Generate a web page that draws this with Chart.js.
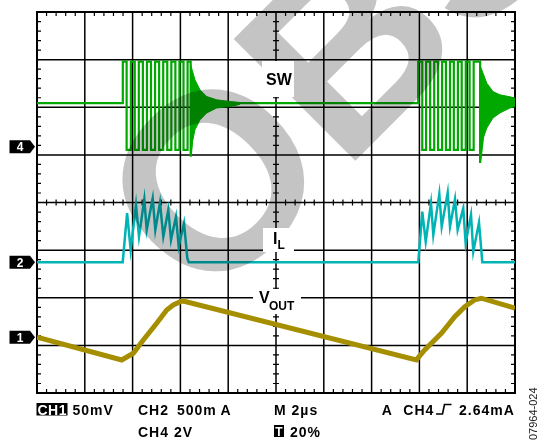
<!DOCTYPE html>
<html>
<head>
<meta charset="utf-8">
<script src="https://cdn.jsdelivr.net/npm/chart.js@4.4.1/dist/chart.umd.min.js"></script>
<style>
  html, body { margin: 0; padding: 0; background: #fff; }
  #wrap { width: 538px; height: 440px; }
</style>
</head>
<body>
<div id="wrap"><canvas id="scope" width="538" height="440"></canvas></div>
<script>
// time axis: 10 div x 2us
var timeSpanUs = 20;

// CH4 - SW node, volts
var swBase = 1.83, swHigh = 3.58, swLow = -0.13;
var burst1Rise = [3.59, 3.93, 4.26, 4.60, 4.94, 5.28, 5.62, 5.96, 6.30];
var burst1Fall = [3.75, 4.09, 4.43, 4.77, 5.11, 5.45, 5.79, 6.13, 6.43];
var burst1Spike = -0.41;
var burst2Rise = [15.95, 16.28, 16.62, 16.95, 17.28, 17.61, 17.94, 18.27];
var burst2Fall = [16.12, 16.45, 16.78, 17.11, 17.44, 17.77, 18.10, 18.54];
var burst2Spike = -0.68;

// ringing envelope after each burst (volts)
var ring1Time   = [6.43, 6.50, 6.61, 6.82, 7.10, 7.52, 8.08, 8.49];
var ring1Top    = [3.44, 3.20, 2.81, 2.39, 2.11, 1.97, 1.90, 1.86];
var ring1Bottom = [-0.41, 0.20, 0.71, 1.13, 1.42, 1.63, 1.69, 1.78];
var ring2Time   = [18.54, 18.61, 18.82, 19.08, 19.37, 19.79, 20.0];
var ring2Top    = [3.40, 3.23, 2.67, 2.32, 2.18, 2.10, 2.04];
var ring2Bottom = [-0.68, 0.20, 0.79, 1.21, 1.42, 1.63, 1.69];

// CH2 - inductor current, mA
var ilTime = [0, 3.586, 3.770, 3.92, 4.142, 4.268, 4.49, 4.59, 4.841, 4.95, 5.146, 5.285, 5.494, 5.607, 5.816, 5.929, 6.151, 6.289, 6.35,
              15.954, 16.121, 16.264, 16.485, 16.582, 16.833, 16.933, 17.184, 17.280, 17.49, 17.6, 17.835, 17.935, 18.159, 18.255, 18.494, 18.632, 20];
var ilMa   = [0, 0, 515, 129, 602, 269, 662, 339, 672, 339, 626, 269, 549, 234, 479, 164, 410, 42, 0,
              0, 531, 216, 620, 287, 717, 374, 731, 374, 662, 339, 567, 200, 497, 111, 416, 0, 0];

// CH1 - output ripple, mV (AC)
var voTime = [0, 3.544, 4.03, 4.448, 5.008, 5.427, 5.703, 6.054, 6.2, 15.87, 16.22, 16.92, 17.48, 17.9, 18.31, 18.59, 20];
var voMv   = [0, -23.8, -16.8, -2.8, 14.7, 28.7, 33.9, 38.1, 37.6, -23.8, -13.3, 4.2, 21.6, 32.1, 39.2, 41, 30.5];

// channel settings (ground marker in divisions from bottom, units per div)
var ch4 = { zero: 5.17, perDiv: 2 };
var ch2 = { zero: 2.746, perDiv: 500 };
var ch1 = { zero: 1.17, perDiv: 50 };

var swColor = '#00a800';
var ilColor = '#00b3b5';
var voColor = '#a58f00';

function toDiv(ch, v) { return ch.zero + v / ch.perDiv; }

// square wave of one burst, then back to the idle level inside the ringing envelope
function burstPoints(rise, fall, spike, ringTime) {
    var p = [];
    rise.forEach(function(t, k) {
        p.push({ x: t, y: k === 0 ? swBase : swLow });
        p.push({ x: t, y: swHigh });
        p.push({ x: fall[k], y: swHigh });
        p.push({ x: fall[k], y: k === rise.length - 1 ? spike : swLow });
    });
    p.push({ x: ringTime[2], y: swBase });
    p.push({ x: ringTime[ringTime.length - 1], y: swBase });
    return p;
}

var swPts = [{ x: 0, y: swBase }]
    .concat(burstPoints(burst1Rise, burst1Fall, burst1Spike, ring1Time))
    .concat(burstPoints(burst2Rise, burst2Fall, burst2Spike, ring2Time))
    .map(function(p) { return { x: p.x, y: toDiv(ch4, p.y) }; });

function series(times, vals, ch) {
    return times.map(function(t, i) { return { x: t, y: toDiv(ch, vals[i]) }; });
}

function traceSet(data, color, width) {
    return { data: data, borderColor: color, borderWidth: width, pointRadius: 0, tension: 0, fill: false };
}
function envSet(data, color, fillPrev) {
    return { data: data, borderColor: color, backgroundColor: color, borderWidth: 1, pointRadius: 0, tension: 0, fill: fillPrev ? '-1' : false };
}

var scopePlugin = {
    id: 'scope',
    beforeDraw: function(chart) {
        var ctx = chart.ctx;
        ctx.save();
        ctx.fillStyle = '#fff';
        ctx.fillRect(0, 0, chart.width, chart.height);
        ctx.restore();
    },
    beforeDatasetsDraw: function(chart) {
        var ctx = chart.ctx, a = chart.chartArea;
        var xs = chart.scales.x, ys = chart.scales.y;
        var xc = xs.getPixelForValue(timeSpanUs / 2), yc = ys.getPixelForValue(4);
        ctx.save();
        ctx.strokeStyle = '#000';
        ctx.lineWidth = 1.5;
        ctx.beginPath();
        for (var i = 1; i < 10; i++) {
            var x = xs.getPixelForValue(i * 2);
            ctx.moveTo(x, a.top); ctx.lineTo(x, a.bottom);
        }
        for (var j = 1; j < 8; j++) {
            var y = ys.getPixelForValue(j);
            ctx.moveTo(a.left, y); ctx.lineTo(a.right, y);
        }
        ctx.stroke();
        // minor ticks, 5 per division
        ctx.lineWidth = 1.2;
        ctx.beginPath();
        for (var k = 1; k < 50; k++) {
            if (k % 5 === 0) continue;
            var tx = xs.getPixelForValue(k * 0.4);
            ctx.moveTo(tx, a.top); ctx.lineTo(tx, a.top + 4);
            ctx.moveTo(tx, a.bottom); ctx.lineTo(tx, a.bottom - 4);
            ctx.moveTo(tx, yc - 3); ctx.lineTo(tx, yc + 3);
        }
        for (var m = 1; m < 40; m++) {
            if (m % 5 === 0) continue;
            var ty = ys.getPixelForValue(m * 0.2);
            ctx.moveTo(a.left, ty); ctx.lineTo(a.left + 4, ty);
            ctx.moveTo(a.right, ty); ctx.lineTo(a.right - 4, ty);
            ctx.moveTo(xc - 3, ty); ctx.lineTo(xc + 3, ty);
        }
        ctx.stroke();
        ctx.lineWidth = 2;
        ctx.strokeRect(a.left, a.top, a.right - a.left, a.bottom - a.top);
        ctx.restore();
    },
    afterDatasetsDraw: function(chart) {
        // OBS watermark, multiplied over the screen
        var ctx = chart.ctx;
        ctx.save();
        ctx.globalCompositeOperation = 'multiply';
        ctx.fillStyle = '#c4c4c4';
        ctx.font = 'bold 250px "Liberation Sans", Arial, sans-serif';
        ctx.translate(206, 310);
        ctx.rotate(-Math.PI / 4);
        ctx.fillText('OBS', 0, 0);
        ctx.restore();
    },
    afterDraw: function(chart) {
        var ctx = chart.ctx;
        var ys = chart.scales.y;
        var font = function(sz, w) { return (w || 'bold') + ' ' + sz + 'px "Liberation Sans", Arial, sans-serif'; };
        ctx.save();

        // trace labels on white patches
        ctx.fillStyle = '#fff';
        ctx.fillRect(262, 61, 32, 36);
        ctx.fillRect(263, 228, 31, 24);
        ctx.fillRect(253, 289, 48, 25);
        ctx.fillStyle = '#000';
        ctx.textBaseline = 'alphabetic';
        ctx.font = font(16);
        ctx.fillText('SW', 266, 85);
        ctx.fillText('I', 273, 243.5);
        ctx.fillText('V', 259, 303);
        ctx.font = font(12);
        ctx.fillText('L', 277.5, 248.5);
        ctx.fillText('OUT', 269, 309.5);

        // channel ground markers
        [['4', ch4], ['2', ch2], ['1', ch1]].forEach(function(mk) {
            var y = ys.getPixelForValue(mk[1].zero);
            ctx.fillStyle = '#000';
            ctx.beginPath();
            ctx.moveTo(9.5, y - 6.5); ctx.lineTo(30, y - 6.5); ctx.lineTo(35, y);
            ctx.lineTo(30, y + 6.5); ctx.lineTo(9.5, y + 6.5); ctx.closePath();
            ctx.fill();
            ctx.fillStyle = '#fff';
            ctx.font = font(12);
            ctx.textAlign = 'center';
            ctx.fillText(mk[0], 20, y + 4.5);
            ctx.textAlign = 'left';
        });

        // readout
        ctx.fillStyle = '#000';
        ctx.fillRect(36.5, 403, 31, 12.5);
        ctx.fillRect(274, 425, 10, 12);
        ctx.fillStyle = '#fff';
        ctx.letterSpacing = '0.5px';
        ctx.font = font(14);
        ctx.fillText('CH1', 37.5, 414.5);
        ctx.letterSpacing = '0px';
        ctx.font = font(12);
        ctx.textAlign = 'center';
        ctx.fillText('T', 279, 436);
        ctx.textAlign = 'left';
        ctx.letterSpacing = '1px';
        ctx.font = font(14);
        ctx.fillStyle = '#000';
        ctx.fillText('50mV', 72.5, 414.5);
        ctx.fillText('CH2', 138, 414.5);
        ctx.fillText('500m\u2009A', 177, 414.5);
        ctx.fillText('CH4 2V', 138, 436.5);
        ctx.fillText('M 2\u00b5s', 274, 414.5);
        ctx.fillText('20%', 290, 436.5);
        ctx.fillText('A', 381.7, 414.5);
        ctx.fillText('CH4', 403.3, 414.5);
        ctx.fillText('2.64mA', 459, 414.5);
        // rising edge trigger symbol
        ctx.strokeStyle = '#000';
        ctx.lineWidth = 1.6;
        ctx.beginPath();
        ctx.moveTo(436, 414); ctx.lineTo(442.5, 414); ctx.lineTo(444.5, 404.5); ctx.lineTo(451.5, 404.5);
        ctx.stroke();

        // figure id, vertical
        ctx.letterSpacing = '0px';
        ctx.font = font(11, 'normal');
        ctx.fillStyle = '#222';
        ctx.translate(537, 440);
        ctx.rotate(-Math.PI / 2);
        ctx.fillText('07964-024', 0, 0);
        ctx.restore();
    }
};

new Chart(document.getElementById('scope'), {
    type: 'line',
    data: {
        datasets: [
            traceSet(series(voTime, voMv, ch1), voColor, 5),
            traceSet(series(ilTime, ilMa, ch2), ilColor, 2.5),
            envSet(series(ring1Time, ring1Top, ch4), swColor, false),
            envSet(series(ring1Time, ring1Bottom, ch4), swColor, true),
            envSet(series(ring2Time, ring2Top, ch4), swColor, false),
            envSet(series(ring2Time, ring2Bottom, ch4), swColor, true),
            traceSet(swPts, swColor, 2.2)
        ]
    },
    options: {
        responsive: false,
        animation: false,
        devicePixelRatio: 1,
        layout: { padding: { left: 37, right: 23, top: 12, bottom: 47 } },
        plugins: { legend: { display: false }, tooltip: { enabled: false } },
        scales: {
            x: { type: 'linear', min: 0, max: timeSpanUs, display: false },
            y: { type: 'linear', min: 0, max: 8, display: false }
        }
    },
    plugins: [scopePlugin]
});
</script>
</body>
</html>
